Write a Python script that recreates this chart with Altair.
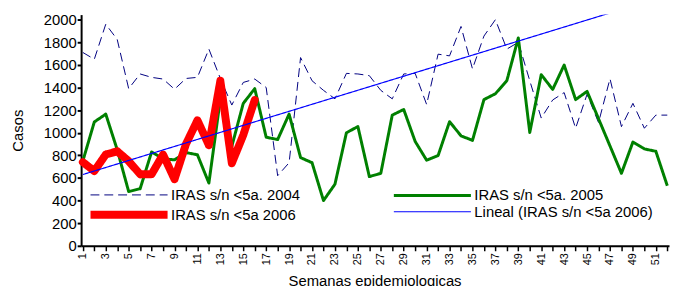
import altair as alt
import pandas as pd

weeks = list(range(1, 53))

casos_2004 = [1710, 1650, 1960, 1825, 1390, 1520, 1490, 1475, 1385, 1480,
              1490, 1740, 1480, 1245, 1445, 1475, 1400, 620, 735, 1665,
              1460, 1375, 1300, 1525, 1520, 1505, 1375, 1300, 1520, 1525,
              1250, 1695, 1680, 1940, 1565, 1855, 2000, 1740, 1800, 1460,
              1130, 1290, 1355, 1040, 1340, 1090, 1478, 1054, 1260, 1040,
              1156, 1156]

casos_2005 = [750, 1095, 1165, 850, 480, 505, 830, 770, 760, 825,
              805, 555, 1300, 880, 1260, 1390, 960, 940, 1165, 780,
              735, 400, 545, 1000, 1055, 612, 641, 1156, 1206, 923,
              757, 798, 1098, 973, 932, 1293, 1345, 1461, 1839, 1002,
              1514, 1383, 1599, 1293, 1366, 1124, 883, 641, 918, 857,
              836, 531]

casos_2006 = [740, 661, 807, 836, 749, 633, 633, 807, 589, 900,
              1110, 890, 1460, 730, 980, 1290]

series_labels = ["IRAS s/n <5a. 2004", "IRAS s/n <5a. 2005",
                 "IRAS s/n <5a 2006", "Lineal (IRAS s/n <5a 2006)"]
series_colors = ["#000080", "#008000", "#FF0000", "#0000FF"]
series_widths = [1, 3, 8, 1.2]
series_dashes = [[9, 5], [1, 0], [1, 0], [1, 0]]

y_ticks = list(range(0, 2001, 200))

rows = []
for lbl, vals in zip(series_labels[:3], [casos_2004, casos_2005, casos_2006]):
    for w, v in zip(weeks, vals):
        rows.append({"serie": lbl, "semana": w, "casos": v})
df = pd.DataFrame(rows)

FONT = "Liberation Sans"

leg = alt.Legend(orient="none", legendX=37, legendY=174, columns=2, direction="horizontal",
                 symbolType="M-5.2,0H5.2", symbolSize=225, labelFontSize=15,
                 labelFont=FONT, labelColor="black", labelOffset=31,
                 columnPadding=88, rowPadding=-9, title=None, padding=0,
                 labelLimit=400)

color = alt.Color("serie:N", scale=alt.Scale(domain=series_labels, range=series_colors), legend=leg)
dash = alt.StrokeDash("serie:N", scale=alt.Scale(domain=series_labels, range=series_dashes), legend=leg)
sw = alt.StrokeWidth("serie:N", scale=alt.Scale(type="ordinal", domain=series_labels, range=series_widths), legend=leg)

x = alt.X("semana:Q",
          scale=alt.Scale(domain=[0.85, 52.15], nice=False, zero=False),
          axis=alt.Axis(values=weeks, labelExpr="datum.value % 2 == 1 ? datum.value : ''",
                        labelAngle=270, labelFontSize=11, labelFont=FONT, labelColor="black",
                        labelPadding=2, tickSize=5, tickWidth=1.5, tickColor="black",
                        domainColor="black", domainWidth=2, grid=False,
                        title="Semanas epidemiologicas", titleFont=FONT, titleFontSize=15,
                        titleFontWeight="normal", titleColor="black",
                        titleX=297, titleY=28, titleBaseline="top", labelOverlap=False))
y = alt.Y("casos:Q",
          scale=alt.Scale(domain=[0, 2045], nice=False),
          axis=alt.Axis(values=y_ticks, format="d", labelFontSize=15, labelFont=FONT,
                        labelColor="black",
                        labelPadding=1, tickSize=4, tickWidth=2, tickColor="black",
                        domainColor="black", domainWidth=2, grid=False,
                        title="Casos", titleFont=FONT, titleFontSize=15,
                        titleFontWeight="normal", titleColor="black",
                        titleX=-64, titleY=117, titleBaseline="middle", titleAngle=270))

base = alt.Chart(df)


def layer(lbl, **mk):
    return base.transform_filter(alt.datum.serie == lbl).mark_line(**mk).encode(
        x=x, y=y, color=color, strokeDash=dash, strokeWidth=sw)


l2004 = layer(series_labels[0])
l2005 = layer(series_labels[1], strokeJoin="round")
l2006 = layer(series_labels[2], strokeJoin="round", strokeCap="round")
lreg = (base.transform_filter(alt.datum.serie == series_labels[2])
        .transform_regression("semana", "casos", method="linear", extent=[1, 52])
        .transform_calculate(serie="'" + series_labels[3] + "'")
        .mark_line(clip=True)
        .encode(x=x, y=y, color=color, strokeDash=dash, strokeWidth=sw))

chart = alt.layer(l2004, l2005, l2006, lreg).properties(
    width=595, height=234,
    autosize=alt.AutoSizeParams(type="none"),
    padding={"left": 74, "top": 5, "right": 1, "bottom": 39},
    background="white",
).configure_view(stroke=None)

chart.save("out.html", embed_options={"renderer": "svg", "actions": False})
